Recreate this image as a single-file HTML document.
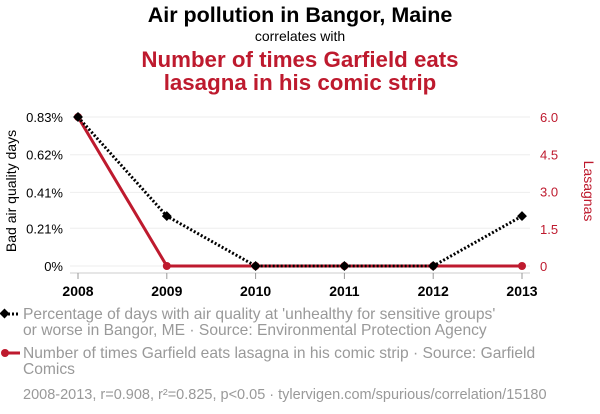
<!DOCTYPE html>
<html><head><meta charset="utf-8"><style>
body{margin:0;background:#fff;font-family:"Liberation Sans",sans-serif;}
svg{display:block}
</style></head><body>
<svg width="600" height="414" font-family="Liberation Sans, sans-serif">
<text x="300" y="22" text-anchor="middle" font-size="21.5" font-weight="bold" fill="#000">Air pollution in Bangor, Maine</text>
<text x="300" y="41" text-anchor="middle" font-size="14" fill="#000">correlates with</text>
<text x="300" y="67" text-anchor="middle" font-size="22.3" font-weight="bold" fill="#be1a2e">Number of times Garfield eats</text>
<text x="300" y="90" text-anchor="middle" font-size="22.3" font-weight="bold" fill="#be1a2e">lasagna in his comic strip</text>
<g id="plot"></g>
<text transform="translate(16,191) rotate(-90)" text-anchor="middle" font-size="14" fill="#000">Bad air quality days</text>
<text transform="translate(584,191) rotate(90)" text-anchor="middle" font-size="14" fill="#be1a2e">Lasagnas</text>
<g>
<line x1="4" y1="314" x2="20" y2="314" stroke="#000" stroke-width="3" stroke-dasharray="2,2"/>
<rect x="1" y="310" width="7" height="7" transform="rotate(45 4.5 313.5)" fill="#000"/>
<text x="23" y="319" font-size="15.6" fill="#999">Percentage of days with air quality at 'unhealthy for sensitive groups'</text>
<text x="23" y="335" font-size="15.6" fill="#999">or worse in Bangor, ME · Source: Environmental Protection Agency</text>
</g>
<g>
<line x1="4" y1="353" x2="20" y2="353" stroke="#be1a2e" stroke-width="3"/>
<circle cx="5" cy="353" r="4" fill="#be1a2e"/>
<text x="23" y="358" font-size="15.6" fill="#999">Number of times Garfield eats lasagna in his comic strip · Source: Garfield</text>
<text x="23" y="374" font-size="15.6" fill="#999">Comics</text>
</g>
<text x="23" y="399" font-size="14.5" fill="#999">2008-2013, r=0.908, r²=0.825, p&lt;0.05 · tylervigen.com/spurious/correlation/15180</text>
</svg>
<script>
const years=[2008,2009,2010,2011,2012,2013];
const airValues=[0.83,0.278,0,0,0,0.278];
const lasagnaValues=[6,0,0,0,0,0];
const leftTicks=[0,0.21,0.41,0.62,0.83];
const leftTickLabels=["0%","0.21%","0.41%","0.62%","0.83%"];
const rightTicks=[0,1.5,3,4.5,6];
const rightTickLabels=["0","1.5","3.0","4.5","6.0"];
const NS="http://www.w3.org/2000/svg";
const g=document.getElementById('plot');
const X0=78,X1=522,YB=266,YT=117;
const x=v=>X0+(v-years[0])/(years[years.length-1]-years[0])*(X1-X0);
const yL=v=>YB-v/0.83*(YB-YT);
const yR=v=>YB-v/6*(YB-YT);
function mk(t,a){const e=document.createElementNS(NS,t);for(const k in a)e.setAttribute(k,a[k]);g.appendChild(e);return e;}
leftTicks.forEach((t,i)=>{
 const l=mk('line',{x1:70,x2:530,y1:yL(t),y2:yL(t),stroke:'#eee','stroke-width':1});
 
 
 const tx=mk('text',{x:63,y:yL(t)+5,'text-anchor':'end','font-size':13,fill:'#000'});tx.textContent=leftTickLabels[i];
 
 
});
rightTicks.forEach((t,i)=>{
 const tx=mk('text',{x:540,y:yR(t)+5,'font-size':13,fill:'#be1a2e'});tx.textContent=rightTickLabels[i];
 
 
});
const ax=mk('line',{x1:70,x2:530,y1:273,y2:273,stroke:'#ccc'});


years.forEach(yr=>{
 mk('line',{x1:x(yr),x2:x(yr),y1:273,y2:279,stroke:'#999'});
 const tx=mk('text',{x:x(yr),y:296,'text-anchor':'middle','font-size':14,'font-weight':'bold',fill:'#000'});tx.textContent=yr;
 
 
});
const rl=mk('polyline',{points:years.map((yr,i)=>x(yr)+','+yR(lasagnaValues[i])).join(' '),fill:'none',stroke:'#be1a2e','stroke-width':3});


years.forEach((yr,i)=>{const c=mk('circle',{cx:x(yr),cy:yR(lasagnaValues[i]),r:4,fill:'#be1a2e'});
 
 });
const bl=mk('polyline',{points:years.map((yr,i)=>x(yr)+','+yL(airValues[i])).join(' '),fill:'none',stroke:'#000','stroke-width':3,'stroke-dasharray':'2,2'});


years.forEach((yr,i)=>{const cx=x(yr),cy=yL(airValues[i]);
 const r=mk('rect',{x:cx-3.5,y:cy-3.5,width:7,height:7,fill:'#000',transform:`rotate(45 ${cx} ${cy})`});
 
 });
</script>
</body></html>
